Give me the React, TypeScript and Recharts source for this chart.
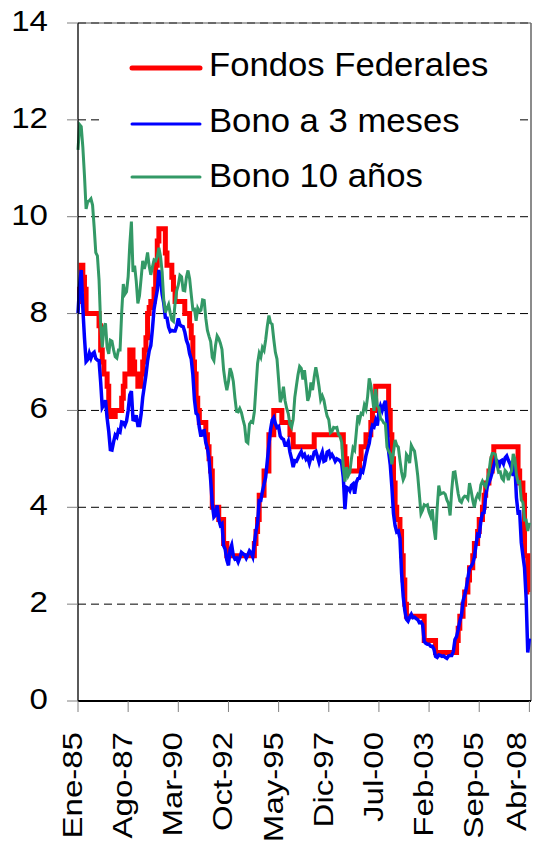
import React from 'react';
import {
  LineChart,
  Line,
  XAxis,
  YAxis,
  CartesianGrid,
  Legend,
  ReferenceLine,
} from 'recharts';

// monthly series, Jan 1985 .. Apr 2008
const fondosFederales = [
  8.25, 8.5, 9.0, 8.75, 8.5, 8.0, 8.0, 8.0, 8.0, 8.0, 8.0, 8.0, // 1985
  8.0, 7.75, 7.25, 7.0, 6.75, 6.75, 6.5, 6.0, 5.875, 5.875, 5.875, 6.0,
  6.0, 6.0, 6.0, 6.25, 6.5, 6.75, 6.75, 6.75, 7.25, 7.25, 7.0, 6.75,
  6.75, 6.5, 6.5, 6.75, 7.0, 7.25, 7.5, 8.0, 8.125, 8.25, 8.25, 8.5,
  9.0, 9.5, 9.75, 9.75, 9.75, 9.75, 9.25, 9.0, 9.0, 9.0, 8.75, 8.5, // 1989
  8.25, 8.25, 8.25, 8.25, 8.25, 8.25, 8.0, 8.0, 8.0, 7.75, 7.5, 7.0,
  6.75, 6.25, 6.0, 5.75, 5.75, 5.75, 5.75, 5.5, 5.25, 5.0, 4.75, 4.0,
  4.0, 4.0, 4.0, 3.75, 3.75, 3.75, 3.25, 3.25, 3.0, 3.0, 3.0, 3.0,
  3.0, 3.0, 3.0, 3.0, 3.0, 3.0, 3.0, 3.0, 3.0, 3.0, 3.0, 3.0, // 1993
  3.0, 3.25, 3.5, 3.75, 4.25, 4.25, 4.25, 4.75, 4.75, 4.75, 5.5, 5.5,
  5.5, 6.0, 6.0, 6.0, 6.0, 6.0, 5.75, 5.75, 5.75, 5.75, 5.75, 5.5,
  5.5, 5.25, 5.25, 5.25, 5.25, 5.25, 5.25, 5.25, 5.25, 5.25, 5.25, 5.25,
  5.25, 5.25, 5.5, 5.5, 5.5, 5.5, 5.5, 5.5, 5.5, 5.5, 5.5, 5.5, // 1997
  5.5, 5.5, 5.5, 5.5, 5.5, 5.5, 5.5, 5.5, 5.25, 5.0, 4.75, 4.75,
  4.75, 4.75, 4.75, 4.75, 4.75, 4.75, 5.0, 5.25, 5.25, 5.25, 5.5, 5.5,
  5.5, 5.75, 6.0, 6.0, 6.5, 6.5, 6.5, 6.5, 6.5, 6.5, 6.5, 6.5,
  6.0, 5.5, 5.0, 4.5, 4.0, 3.75, 3.75, 3.5, 3.0, 2.5, 2.0, 1.75, // 2001
  1.75, 1.75, 1.75, 1.75, 1.75, 1.75, 1.75, 1.75, 1.75, 1.75, 1.25, 1.25,
  1.25, 1.25, 1.25, 1.25, 1.25, 1.0, 1.0, 1.0, 1.0, 1.0, 1.0, 1.0,
  1.0, 1.0, 1.0, 1.0, 1.0, 1.0, 1.25, 1.5, 1.75, 1.75, 2.0, 2.25,
  2.25, 2.5, 2.75, 2.75, 3.0, 3.25, 3.25, 3.5, 3.75, 3.75, 4.0, 4.25, // 2005
  4.5, 4.5, 4.75, 4.75, 5.0, 5.25, 5.25, 5.25, 5.25, 5.25, 5.25, 5.25,
  5.25, 5.25, 5.25, 5.25, 5.25, 5.25, 5.25, 5.25, 4.75, 4.5, 4.5, 4.25,
  3.0, 3.0, 2.25, 2.25, // 2008
];

const bono3Meses = [
  8.0, 8.6, 8.9, 8.1, 7.5, 7.01, 7.05, 7.18, 7.08, 7.17, 7.2, 7.07, // 1985
  7.04, 7.03, 6.59, 6.06, 6.12, 6.21, 5.84, 5.57, 5.19, 5.18, 5.35, 5.49,
  5.45, 5.59, 5.56, 5.76, 5.75, 5.69, 5.78, 6.0, 6.32, 6.4, 5.81, 5.8,
  5.9, 5.69, 5.69, 5.92, 6.27, 6.5, 6.73, 7.02, 7.23, 7.34, 7.68, 8.09,
  8.29, 8.48, 8.9, 8.7, 8.4, 8.22, 7.92, 7.91, 7.72, 7.63, 7.65, 7.64, // 1989
  7.64, 7.74, 7.9, 7.77, 7.74, 7.73, 7.62, 7.45, 7.36, 7.17, 7.06, 6.74,
  6.22, 5.94, 5.91, 5.65, 5.46, 5.57, 5.58, 5.33, 5.22, 4.99, 4.56, 4.07,
  3.8, 3.84, 4.04, 3.75, 3.63, 3.66, 3.21, 3.13, 2.91, 2.8, 3.13, 3.22,
  3.0, 2.93, 2.95, 2.87, 2.96, 3.07, 3.04, 3.02, 2.95, 3.02, 3.1, 3.06, // 1993
  2.98, 3.25, 3.5, 3.68, 4.14, 4.14, 4.33, 4.48, 4.62, 4.95, 5.29, 5.6,
  5.8, 5.85, 5.73, 5.65, 5.67, 5.47, 5.42, 5.4, 5.28, 5.28, 5.36, 5.14,
  5.0, 4.83, 4.96, 4.95, 5.02, 5.09, 5.15, 5.05, 5.09, 4.99, 5.03, 4.91,
  5.03, 5.01, 5.14, 5.16, 5.05, 4.93, 5.05, 5.14, 4.95, 4.97, 5.14, 5.16, // 1997
  5.04, 5.09, 5.03, 4.95, 5.0, 4.98, 4.96, 4.9, 4.61, 3.96, 4.41, 4.39,
  4.34, 4.45, 4.48, 4.28, 4.51, 4.59, 4.6, 4.76, 4.73, 4.88, 5.07, 5.2,
  5.32, 5.55, 5.69, 5.66, 5.79, 5.69, 5.96, 6.09, 6.0, 6.11, 6.2, 5.77,
  5.15, 4.88, 4.42, 3.87, 3.62, 3.49, 3.51, 3.36, 2.64, 2.16, 1.87, 1.69, // 2001
  1.65, 1.73, 1.79, 1.72, 1.73, 1.7, 1.68, 1.62, 1.63, 1.58, 1.23, 1.19,
  1.17, 1.17, 1.13, 1.13, 1.07, 0.92, 0.9, 0.95, 0.94, 0.92, 0.93, 0.9,
  0.88, 0.93, 0.94, 0.94, 1.02, 1.27, 1.33, 1.48, 1.65, 1.76, 2.07, 2.19,
  2.33, 2.54, 2.74, 2.78, 2.84, 2.97, 3.22, 3.44, 3.42, 3.71, 3.88, 3.89, // 2005
  4.24, 4.43, 4.51, 4.6, 4.72, 4.85, 4.99, 4.96, 4.81, 4.95, 4.97, 4.9,
  5.02, 5.06, 4.97, 4.9, 4.8, 4.65, 4.9, 4.2, 3.89, 3.9, 3.27, 3.0,
  2.75, 2.12, 1.0, 1.29, // 2008
];

const bono10Anos = [
  11.38, 11.9, 11.86, 11.43, 10.85, 10.16, 10.31, 10.33, 10.37, 10.24, 9.78, 9.26, // 1985
  9.19, 8.7, 7.78, 7.3, 7.71, 7.8, 7.3, 7.17, 7.45, 7.43, 7.25, 7.11,
  7.08, 7.25, 7.25, 8.02, 8.61, 8.4, 8.45, 8.76, 9.42, 9.9, 8.86, 8.99,
  8.67, 8.21, 8.37, 8.72, 9.09, 8.92, 9.06, 9.26, 8.98, 8.8, 8.96, 9.11,
  9.09, 9.17, 9.36, 9.18, 8.86, 8.28, 8.02, 8.11, 8.19, 8.01, 7.87, 7.84, // 1989
  8.21, 8.47, 8.59, 8.79, 8.76, 8.48, 8.47, 8.75, 8.89, 8.72, 8.39, 8.08,
  8.09, 7.85, 8.11, 8.04, 8.07, 8.28, 8.27, 7.9, 7.65, 7.53, 7.42, 7.09,
  7.03, 7.34, 7.54, 7.48, 7.39, 7.26, 6.84, 6.59, 6.42, 6.59, 6.87, 6.77,
  6.6, 6.26, 5.98, 5.97, 6.04, 5.96, 5.81, 5.68, 5.36, 5.33, 5.72, 5.77, // 1993
  5.75, 5.97, 6.48, 6.97, 7.18, 7.1, 7.3, 7.24, 7.46, 7.74, 7.96, 7.81,
  7.78, 7.47, 7.2, 7.06, 6.63, 6.17, 6.28, 6.49, 6.2, 6.04, 5.93, 5.71,
  5.65, 5.81, 6.27, 6.51, 6.74, 6.91, 6.87, 6.64, 6.83, 6.53, 6.2, 6.3,
  6.58, 6.42, 6.69, 6.89, 6.71, 6.49, 6.22, 6.3, 6.21, 6.03, 5.88, 5.81, // 1997
  5.54, 5.57, 5.65, 5.64, 5.65, 5.5, 5.46, 5.34, 4.81, 4.53, 4.83, 4.65,
  4.72, 5.0, 5.23, 5.18, 5.54, 5.9, 5.79, 5.94, 5.92, 6.11, 6.03, 6.28,
  6.66, 6.52, 6.26, 5.99, 6.44, 6.1, 6.05, 5.83, 5.8, 5.74, 5.72, 5.24,
  5.16, 5.1, 4.89, 5.14, 5.39, 5.28, 5.24, 4.97, 4.73, 4.57, 4.65, 5.09, // 2001
  5.04, 4.91, 5.28, 5.21, 5.16, 4.93, 4.65, 4.26, 3.87, 3.94, 4.05, 4.03,
  4.05, 3.9, 3.81, 3.96, 3.57, 3.33, 3.98, 4.45, 4.27, 4.29, 4.3, 4.27,
  4.15, 4.08, 3.83, 4.35, 4.72, 4.73, 4.5, 4.28, 4.13, 4.1, 4.19, 4.23,
  4.22, 4.17, 4.5, 4.34, 4.14, 4.0, 4.18, 4.26, 4.2, 4.46, 4.54, 4.47, // 2005
  4.42, 4.57, 4.72, 4.99, 5.11, 5.11, 5.09, 4.88, 4.72, 4.73, 4.6, 4.56,
  4.76, 4.72, 4.56, 4.69, 4.75, 5.1, 5.0, 4.67, 4.52, 4.53, 4.15, 4.1,
  3.74, 3.74, 3.51, 3.68, // 2008
];

const mesesNombres = ['Ene', 'Feb', 'Mar', 'Abr', 'May', 'Jun', 'Jul', 'Ago', 'Sep', 'Oct', 'Nov', 'Dic'];
const tickLabels = ['Ene-85', 'Ago-87', 'Mar-90', 'Oct-92', 'May-95', 'Dic-97', 'Jul-00', 'Feb-03', 'Sep-05', 'Abr-08'];
const yTicks = [0, 2, 4, 6, 8, 10, 12, 14];

const meses = fondosFederales.map((_, i) => {
  const yy = (85 + Math.floor(i / 12)) % 100;
  return `${mesesNombres[i % 12]}-${String(yy).padStart(2, '0')}`;
});

const data = fondosFederales.map((v, i) => ({
  t: i,
  mes: meses[i],
  fondos: v,
  bono3m: bono3Meses[i],
  bono10: bono10Anos[i],
}));

const xTicks = tickLabels.map((l) => meses.indexOf(l));

const FONT = '"Liberation Sans", Arial, sans-serif';

const series = [
  { key: 'fondos', label: 'Fondos Federales', color: '#ff0000', width: 5 },
  { key: 'bono3m', label: 'Bono a 3 meses', color: '#0000ff', width: 3.5 },
  { key: 'bono10', label: 'Bono 10 años', color: '#339966', width: 3 },
];

const YTick = ({ x, y, payload }: any) => (
  <text
    transform={`translate(${x - 17},${y + 8}) scale(1.12,1)`}
    textAnchor="end"
    fontSize={29.5}
    fontFamily={FONT}
    fill="#000"
  >
    {payload.value}
  </text>
);

// the last label sits at the right edge, keep it inside the page
const XTick = ({ x, payload }: any) => (
  <text
    transform={`translate(${Math.min(x + 4, 526)},732) rotate(-90) scale(1.18,1)`}
    textAnchor="end"
    fontSize={28}
    fontFamily={FONT}
    fill="#000"
  >
    {meses[payload.value]}
  </text>
);

const legendRows = [
  { y: 38, base: 46 },
  { y: 94, base: 102 },
  { y: 147, base: 157 },
];

const LegendBox = () => (
  <svg width={415} height={172} style={{ display: 'block' }}>
    {series.map((s, i) => (
      <g key={s.key}>
        <line
          x1={32}
          x2={100}
          y1={legendRows[i].y}
          y2={legendRows[i].y}
          stroke={s.color}
          strokeWidth={i === 0 ? 5 : 3}
          strokeLinecap="round"
        />
        <text
          transform={`translate(109,${legendRows[i].base}) scale(1.02,1)`}
          fontSize={34}
          fontFamily={FONT}
          fill="#000"
        >
          {s.label}
        </text>
      </g>
    ))}
  </svg>
);

export default function App() {
  return (
    <div style={{ position: 'absolute', left: 0, top: 0, width: 533, height: 843, background: '#fff' }}>
      <LineChart width={533} height={843} data={data} margin={{ top: 23, right: 2, bottom: 0, left: 0 }}>
        <CartesianGrid vertical={false} stroke="#000" strokeDasharray="8 5" />
        <XAxis
          dataKey="t"
          type="number"
          domain={[0, 280]}
          ticks={xTicks}
          interval={0}
          height={142}
          tickSize={11}
          axisLine={{ stroke: '#000', strokeWidth: 2 }}
          tickLine={{ stroke: '#808080' }}
          tick={<XTick />}
        />
        <YAxis
          domain={[0, 14]}
          ticks={yTicks}
          width={78}
          tickSize={11}
          axisLine={{ stroke: '#000', strokeWidth: 1.3 }}
          tickLine={{ stroke: '#808080' }}
          tick={<YTick />}
        />
        <ReferenceLine y={14} stroke="#555" />
        <ReferenceLine x={280} stroke="#666" strokeWidth={1.5} />
        <Legend
          layout="vertical"
          align="center"
          verticalAlign="middle"
          wrapperStyle={{ left: 100, top: 30, width: 415, height: 172, background: '#fff' }}
          content={() => <LegendBox />}
        />
        {series.map((s) => (
          <Line
            key={s.key}
            dataKey={s.key}
            name={s.label}
            type={s.key === 'fondos' ? 'stepAfter' : 'linear'}
            stroke={s.color}
            strokeWidth={s.width}
            dot={false}
            isAnimationActive={false}
          />
        ))}
      </LineChart>
    </div>
  );
}
